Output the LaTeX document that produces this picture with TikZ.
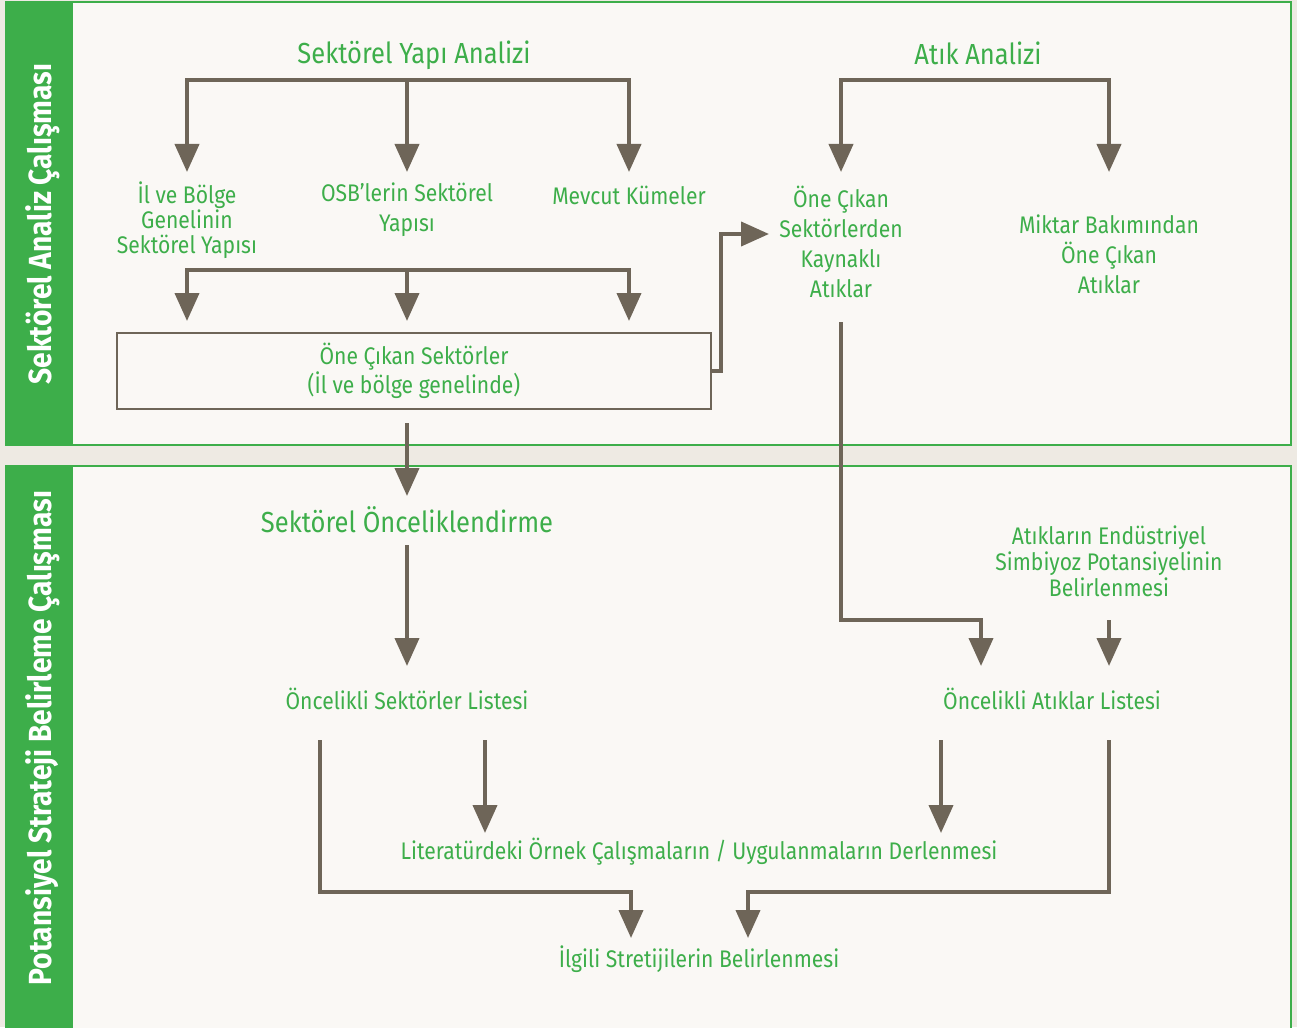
\documentclass[tikz,border=0pt]{standalone}
\usepackage{fontspec}
\setmainfont{Fira Sans}[FakeStretch=0.88]
\usetikzlibrary{arrows.meta}
\definecolor{grn}{HTML}{3DAE4A}
\definecolor{arr}{HTML}{6E6558}
\definecolor{outerbg}{HTML}{EEEAE3}
\definecolor{innerbg}{HTML}{FAF8F5}
\begin{document}
\begin{tikzpicture}[x=1pt,y=-1pt,
  lbl/.style={text=grn, font=\fontsize{24}{30}\selectfont, align=center, inner sep=0pt},
  head/.style={text=grn, font=\fontsize{29}{34}\selectfont, inner sep=0pt},
  side/.style={text=white, font=\bfseries\fontsize{32}{36}\selectfont, rotate=90, inner sep=0pt},
  flow/.style={draw=arr, line width=4pt, -{Triangle[width=24pt,length=28pt]}},
  panel/.style={fill=innerbg, draw=grn, line width=2pt},
  bar/.style={fill=grn},
  boxed/.style={draw=arr, line width=2.5pt, minimum width=594pt, minimum height=76pt, inner sep=0pt}
]
\useasboundingbox (0,0) rectangle (1297,1027);
\fill[outerbg] (0,0) rectangle (1297,1027);

% panels
\draw[panel] (6,2) rectangle (1291,445);
\fill[bar] (6,2) rectangle (73,445);
\draw[panel] (6,466) rectangle (1291,1040);
\fill[bar] (6,466) rectangle (73,1040);
\node[side] (s1) at (43,224) {Sektörel Analiz Çalışması};
\node[side] (s2) at (43,738) {Potansiyel Strateji Belirleme Çalışması};

% headings
\node[head] (sya) at (414,55) {Sektörel Yapı Analizi};
\node[head] (aa) at (978,53) {Atık Analizi};

% level 1 labels
\node[lbl] (ilb) at (187,220) {İl ve Bölge\\[-5pt]Genelinin\\[-5pt]Sektörel Yapısı};
\node[lbl] (osb) at (407,210) {OSB’lerin Sektörel\\Yapısı};
\node[lbl] (mk) at (629,195) {Mevcut Kümeler};
\node[lbl] (ock) at (841,242) {Öne Çıkan\\Sektörlerden\\Kaynaklı\\Atıklar};
\node[lbl] (mbo) at (1109,254) {Miktar Bakımından\\Öne Çıkan\\Atıklar};

% box
\node[boxed, lbl, draw=arr] (box) at (414,371) {Öne Çıkan Sektörler\\[-1pt](İl ve bölge genelinde)};

% lower part
\node[head] (so) at (407,520) {Sektörel Önceliklendirme};
\node[lbl] (osl) at (407,699) {Öncelikli Sektörler Listesi};
\node[lbl] (aes) at (1109,561) {Atıkların Endüstriyel\\[-4pt]Simbiyoz Potansiyelinin\\[-4pt]Belirlenmesi};
\node[lbl] (oal) at (1052,699) {Öncelikli Atıklar Listesi};
\node[lbl] (lit) at (699,852) {Literatürdeki Örnek Çalışmaların / Uygulanmaların Derlenmesi};
\node[lbl] (isb) at (699,959) {İlgili Stretijilerin Belirlenmesi};

% coordinates
\coordinate (b1) at (407,80);
\coordinate (b2) at (975,80);
\coordinate (b3) at (407,270);
\coordinate (t1) at (187,172);
\coordinate (t2) at (407,172);
\coordinate (t3) at (629,172);
\coordinate (t4) at (841,172);
\coordinate (t5) at (1109,172);
\coordinate (tock) at (769,234);

% top bracket
\draw[flow] (b1) -| (t1);
\draw[flow] (b1) -- (t2);
\draw[flow] (b1) -| (t3);
\draw[draw=arr, line width=4pt] (185,80) -- (631,80);
% atik bracket
\draw[flow] (b2) -| (t4);
\draw[flow] (b2) -| (t5);
\draw[draw=arr, line width=4pt] (839,80) -- (1111,80);
% second bracket
\draw[flow] (b3) -| (187,321);
\draw[flow] (b3) -- (407,321);
\draw[flow] (b3) -| (629,321);
\draw[draw=arr, line width=4pt] (185,270) -- (631,270);

% box to atiklar
\draw[flow] (box.east) -- (721,371) |- (tock);
% box down
\draw[flow] (407,423) -- (407,496);
\draw[flow] (so.south |- 0,545) -- (407,666);
% atiklar down
\draw[flow] (ock.south |- 0,322) -- (841,620) -| (981,666);
\draw[flow] (aes.south |- 0,620) -- (1109,666);
% to literatur
\draw[flow] (485,740) -- (485,833);
\draw[flow] (941,740) -- (941,833);
% to ilgili
\draw[flow] (320,740) |- (631,892) -- (631,938);
\draw[flow] (1109,740) |- (748,892) -- (748,938);
\end{tikzpicture}
\end{document}
